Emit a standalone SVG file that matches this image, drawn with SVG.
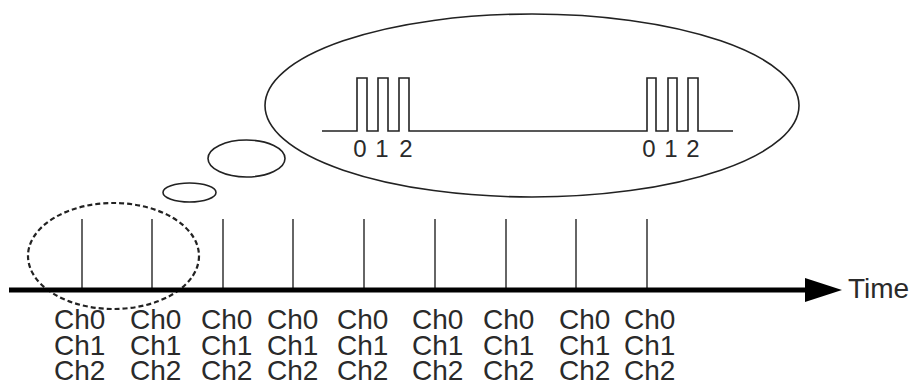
<svg xmlns="http://www.w3.org/2000/svg" width="913" height="386" viewBox="0 0 913 386">
<style>
.ln{fill:none;stroke:#222;stroke-width:1.6}
.tk{fill:none;stroke:#333;stroke-width:1.5}
.lbl{font-family:"Liberation Sans",Arial,sans-serif;font-size:28px;fill:#2a2a2a}
.dg{font-family:"Liberation Sans",Arial,sans-serif;font-size:24px;fill:#2a2a2a;text-anchor:middle}
</style>
<rect width="913" height="386" fill="#fff"/>
<g id="bubble-large">
<ellipse class="ln" cx="532" cy="105.5" rx="267" ry="91.5"/>
<path class="ln" d="M322,131 H357 V78 H367 V131 H378 V78 H388 V131 H399 V78 H409 V131 H647 V78 H656 V131 H668 V78 H677 V131 H688 V78 H698 V131 H733"/>
<text class="dg" x="360" y="157">0</text>
<text class="dg" x="382" y="157">1</text>
<text class="dg" x="406" y="157">2</text>
<text class="dg" x="649" y="157">0</text>
<text class="dg" x="671" y="157">1</text>
<text class="dg" x="693" y="157">2</text>
</g>
<g id="bubble-medium"><ellipse class="ln" cx="246.5" cy="158.5" rx="38.5" ry="18.5"/></g>
<g id="bubble-small"><ellipse class="ln" cx="189.5" cy="192.5" rx="26.5" ry="9.5"/></g>
<g id="focus"><ellipse cx="113.5" cy="256" rx="85.5" ry="53" fill="none" stroke="#222" stroke-width="2.2" stroke-dasharray="5,3"/></g>
<g id="connectors">
<line class="tk" x1="82" y1="219" x2="82" y2="290"/>
<line class="tk" x1="152" y1="219" x2="152" y2="290"/>
<line class="tk" x1="223" y1="219" x2="223" y2="290"/>
<line class="tk" x1="293" y1="219" x2="293" y2="290"/>
<line class="tk" x1="364" y1="219" x2="364" y2="290"/>
<line class="tk" x1="435" y1="219" x2="435" y2="290"/>
<line class="tk" x1="506" y1="219" x2="506" y2="290"/>
<line class="tk" x1="576" y1="219" x2="576" y2="290"/>
<line class="tk" x1="647" y1="219" x2="647" y2="290"/>
<line x1="9" y1="290" x2="808" y2="290" stroke="#000" stroke-width="5"/>
<polygon points="805,278 842,290 805,302" fill="#000"/>
</g>
<g id="time-label"><text class="lbl" x="848" y="298">Time</text></g>
<g id="labels" class="lbl">
<text x="54" y="329">Ch0</text><text x="54" y="355">Ch1</text><text x="54" y="380">Ch2</text>
<text x="130" y="329">Ch0</text><text x="130" y="355">Ch1</text><text x="130" y="380">Ch2</text>
<text x="201" y="329">Ch0</text><text x="201" y="355">Ch1</text><text x="201" y="380">Ch2</text>
<text x="267" y="329">Ch0</text><text x="267" y="355">Ch1</text><text x="267" y="380">Ch2</text>
<text x="337" y="329">Ch0</text><text x="337" y="355">Ch1</text><text x="337" y="380">Ch2</text>
<text x="412" y="329">Ch0</text><text x="412" y="355">Ch1</text><text x="412" y="380">Ch2</text>
<text x="483" y="329">Ch0</text><text x="483" y="355">Ch1</text><text x="483" y="380">Ch2</text>
<text x="559" y="329">Ch0</text><text x="559" y="355">Ch1</text><text x="559" y="380">Ch2</text>
<text x="624" y="329">Ch0</text><text x="624" y="355">Ch1</text><text x="624" y="380">Ch2</text>
</g>
</svg>
